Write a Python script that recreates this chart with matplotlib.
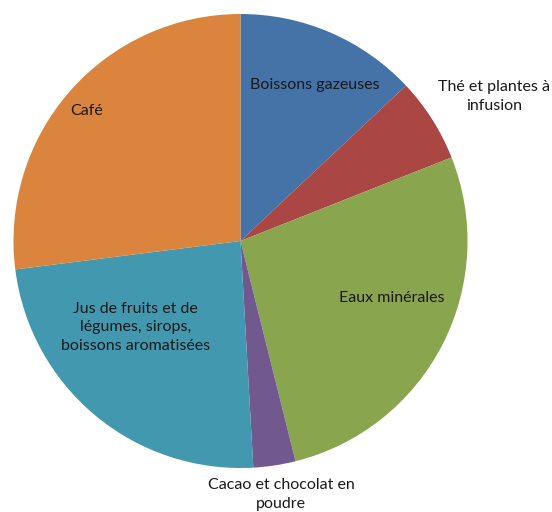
import numpy as np
import matplotlib.pyplot as plt

# parts de consommation (%)
labels = ['Boissons gazeuses', 'Thé et plantes à\ninfusion', 'Eaux minérales',
          'Cacao et chocolat en\npoudre',
          'Jus de fruits et de\nlégumes, sirops,\nboissons aromatisées', 'Café']
values = [13.0, 6.0, 27.1, 3.0, 23.9, 27.0]
colors = ['#4572A7', '#AA4643', '#89A54E', '#71588F', '#4198AF', '#DB843D']

# label positions (fraction of radius, angle in degrees ccw from +x)
lab_r = [0.76, 1.285, 0.713, 1.13, 0.60, 0.89]
lab_a = [64.5, 29.8, -20.5, -80.9, -140.6, 139.8]

plt.rcParams['font.family'] = ['Lato', 'DejaVu Sans']

fig = plt.figure(figsize=(5.52, 5.12), dpi=100)
cx, cy, R = 240.5, 241, 227
ax = fig.add_axes([(cx - R) / 552, (512 - cy - R) / 512, 2 * R / 552, 2 * R / 512])
ax.pie(values, colors=colors, startangle=90, counterclock=False,
       wedgeprops=dict(linewidth=0))
ax.set_xlim(-1, 1)
ax.set_ylim(-1, 1)
ax.set_aspect('auto')
ax.axis('off')

for lab, r, a in zip(labels, lab_r, lab_a):
    t = np.deg2rad(a)
    ax.text(r * np.cos(t), r * np.sin(t), lab, ha='center', va='center',
            fontsize=11.5, color='#1a1a1a', linespacing=1.45, clip_on=False)

plt.savefig('out.png', dpi=100)
